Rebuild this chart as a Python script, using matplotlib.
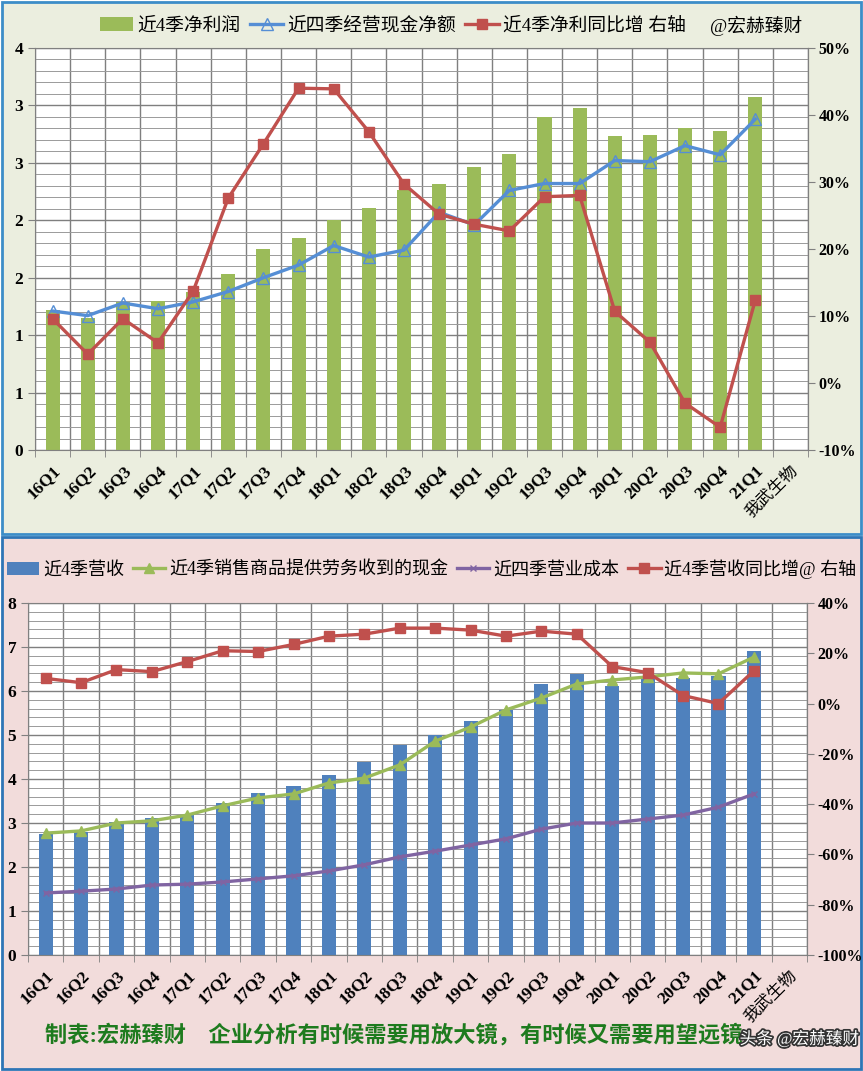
import numpy as np
import matplotlib
matplotlib.use("Agg")
import matplotlib.pyplot as plt
import matplotlib.ticker as tck
import matplotlib.patheffects as pe
from matplotlib.patches import Rectangle

plt.rcParams['font.family'] = ['Liberation Serif', 'Noto Sans CJK SC', 'DejaVu Sans']

# ---- data ----
cats = ['16Q1', '16Q2', '16Q3', '16Q4', '17Q1', '17Q2', '17Q3', '17Q4',
        '18Q1', '18Q2', '18Q3', '18Q4', '19Q1', '19Q2', '19Q3', '19Q4',
        '20Q1', '20Q2', '20Q3', '20Q4', '21Q1', '我武生物']

# top chart
net_profit = [1.22, 1.15, 1.29, 1.30, 1.38, 1.53, 1.75, 1.85, 2.00, 2.11, 2.26,
              2.32, 2.46, 2.58, 2.90, 2.98, 2.73, 2.74, 2.80, 2.78, 3.07]
op_cash = [1.21, 1.17, 1.28, 1.23, 1.29, 1.38, 1.50, 1.61, 1.78, 1.68, 1.74,
           2.07, 1.96, 2.26, 2.32, 2.32, 2.52, 2.51, 2.65, 2.57, 2.88]
profit_yoy = [9.6, 4.3, 9.6, 6.0, 13.7, 27.6, 35.7, 44.0, 43.9, 37.5, 29.7,
              25.2, 23.7, 22.7, 27.8, 28.0, 10.7, 6.1, -3.0, -6.6, 12.4]

# bottom chart
revenue = [2.75, 2.80, 3.02, 3.11, 3.18, 3.45, 3.68, 3.84, 4.09, 4.39, 4.77,
           5.00, 5.32, 5.57, 6.16, 6.39, 6.11, 6.27, 6.30, 6.34, 6.91]
sales_cash = [2.77, 2.82, 3.00, 3.05, 3.18, 3.39, 3.57, 3.66, 3.91, 4.02, 4.32,
              4.86, 5.18, 5.57, 5.84, 6.16, 6.25, 6.32, 6.41, 6.39, 6.77]
op_cost = [1.41, 1.45, 1.50, 1.59, 1.61, 1.66, 1.73, 1.80, 1.91, 2.05, 2.23,
           2.36, 2.50, 2.64, 2.86, 3.00, 3.00, 3.09, 3.18, 3.36, 3.66]
rev_yoy = [10.0, 8.3, 13.5, 12.7, 16.7, 21.0, 20.7, 23.5, 26.8, 27.6, 30.0,
           30.0, 29.2, 26.8, 28.8, 27.6, 14.7, 12.3, 3.2, 0.0, 13.0]

top_ylabels = ['0', '1', '1', '2', '2', '3', '3', '4']

GREEN = '#9BBB59'
BLUE = '#4F81BD'
LBLUE = '#558ED5'
RED = '#C0504D'
PURPLE = '#8064A2'

fig = plt.figure(figsize=(8.63, 10.71), dpi=100)

# panel backgrounds
fig.patches.append(Rectangle((0.002, 0.5015), 0.996, 0.4965, transform=fig.transFigure,
                             facecolor='#EBEEDF', edgecolor='#3C8DC8', lw=2, zorder=-10))
fig.patches.append(Rectangle((0.002, 0.002), 0.996, 0.4965, transform=fig.transFigure,
                             facecolor='#F2DCDB', edgecolor='#2E75B6', lw=2, zorder=-10))

x = np.arange(len(net_profit))


def style_axes(ax, ax2, minor_step):
    ax.set_xlim(-0.5, len(cats) - 0.5)
    ax.set_xticks(np.arange(len(cats)))
    ax.set_xticklabels(cats, rotation=45, ha='right', rotation_mode='anchor',
                       fontsize=12.5, fontweight='bold')
    ax.get_xticklabels()[-1].set_fontweight('normal')
    ax.get_xticklabels()[-1].set_fontsize(12)
    ax.set_xticks(np.arange(len(cats) + 1) - 0.5, minor=True)
    ax.tick_params(axis='x', which='major', length=0, pad=9)
    ax.tick_params(axis='x', which='minor', length=5, color='#808080')
    ax.yaxis.set_minor_locator(tck.MultipleLocator(minor_step))
    ax.tick_params(axis='y', which='major', length=5, color='#808080', labelsize=12.5)
    ax.tick_params(axis='y', which='minor', length=0)
    for lab in ax.get_yticklabels():
        lab.set_fontweight('bold')
    ax.grid(True, axis='y', which='major', color='#7F7F7F', lw=1.0)
    ax.grid(True, axis='y', which='minor', color='#9A9A9A', lw=0.7)
    ax.grid(True, axis='x', which='minor', color='#7F7F7F', lw=1.0)
    ax.set_axisbelow(True)
    for s in ax.spines.values():
        s.set_color('#808080')
    for s in ax2.spines.values():
        s.set_visible(False)
    ax2.spines['right'].set_visible(True)
    ax2.spines['right'].set_color('#808080')
    ax2.tick_params(axis='y', length=5, color='#808080', labelsize=11.5, pad=2.5)
    ax2.yaxis.set_major_formatter(tck.FuncFormatter(lambda v, p: '%d%%' % round(v)))
    for lab in ax2.get_yticklabels():
        lab.set_fontweight('bold')


# ---------- top chart ----------
ax1 = fig.add_axes([0.0406, 0.5798, 0.8957, 0.3754])
ax1.set_facecolor('white')
b1 = ax1.bar(x, net_profit, width=0.4, color=GREEN, label='近4季净利润', zorder=2)
l1, = ax1.plot(x, op_cash, color=LBLUE, lw=2.4, marker='^', ms=8, mfc='none', mec=LBLUE,
               mew=1.0, label='近四季经营现金净额', zorder=3)
ax1.set_ylim(0, 3.5)
ax1.set_yticks(np.arange(0, 3.51, 0.5))
ax1.set_yticklabels(top_ylabels)
ax1r = ax1.twinx()
r1, = ax1r.plot(x, profit_yoy, color=RED, lw=2.4, marker='s', ms=7,
                label='近4季净利同比增 右轴', zorder=4)
ax1r.set_ylim(-10, 50)
ax1r.set_yticks(np.arange(-10, 51, 10))
style_axes(ax1, ax1r, 0.1)

fig.legend([b1, l1, r1], [b1.get_label(), l1.get_label(), r1.get_label()],
           loc='center', bbox_to_anchor=(0.455, 0.976), ncol=3,
           frameon=False, fontsize=13.5, handlelength=1.8, handletextpad=0.2, columnspacing=0.5)
fig.text(0.823, 0.976, '@宏赫臻财', fontsize=13.5, ha='left', va='center')

# ---------- bottom chart ----------
ax2 = fig.add_axes([0.0324, 0.1083, 0.9027, 0.3287])
ax2.set_facecolor('white')
b2 = ax2.bar(x, revenue, width=0.4, color=BLUE, label='近4季营收', zorder=2)
g2, = ax2.plot(x, sales_cash, color=GREEN, lw=2.4, marker='^', ms=7,
               label='近4季销售商品提供劳务收到的现金', zorder=3)
p2, = ax2.plot(x, op_cost, color=PURPLE, lw=2.4, marker='x', ms=4,
               label='近四季营业成本', zorder=3)
ax2.set_ylim(0, 8)
ax2.set_yticks(np.arange(0, 9, 1))
ax2r = ax2.twinx()
r2, = ax2r.plot(x, rev_yoy, color=RED, lw=2.4, marker='s', ms=7,
                label='近4季营收同比增@ 右轴', zorder=4)
ax2r.set_ylim(-100, 40)
ax2r.set_yticks(np.arange(-100, 41, 20))
style_axes(ax2, ax2r, 0.2)

hs = [b2, g2, p2, r2]
fig.legend(hs, [h.get_label() for h in hs], loc='center', bbox_to_anchor=(0.5, 0.469), ncol=4,
           frameon=False, fontsize=13, handlelength=1.8, handletextpad=0.2, columnspacing=0.5)

fig.text(0.052, 0.033, '制表:宏赫臻财    企业分析有时候需要用放大镜，有时候又需要用望远镜',
         fontsize=16, fontweight='bold', color='#1E7B1E', ha='left', va='center')
fig.text(0.857, 0.030, '头条 @宏赫臻财', fontsize=12, color='white', ha='left', va='center',
         path_effects=[pe.withStroke(linewidth=2.5, foreground='#333333')])

fig.savefig('out.png', dpi=100)
